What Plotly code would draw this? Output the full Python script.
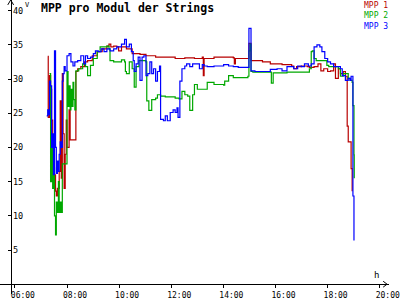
import plotly.graph_objects as go

# ---- data (hours, volts) ----
mpp1_t = [7.26, 7.28, 7.33, 7.37, 7.41, 7.45, 7.48, 7.52, 7.56, 7.59, 7.63, 7.70, 7.74, 7.78, 7.82, 7.85,
          7.89, 7.93, 7.97, 8.00, 8.08, 8.12, 8.30, 8.34, 8.41, 8.53, 8.67, 8.79, 8.97, 9.16, 9.35, 9.53,
          9.61, 9.68, 9.79, 9.91, 9.98, 10.09, 10.21, 10.28, 10.50, 10.80, 11.03, 11.40, 11.77, 12.15,
          12.52, 12.89, 13.19, 13.23, 13.26, 13.64, 14.01, 14.38, 14.42, 14.46, 14.87, 14.98, 15.02,
          15.06, 15.50, 15.80, 16.25, 16.62, 16.70, 16.81, 16.99, 17.22, 17.30, 17.48, 17.63, 17.74,
          17.85, 18.00, 18.11, 18.23, 18.30, 18.41, 18.49, 18.60, 18.68, 18.75, 18.79, 18.90, 18.94]
mpp1_v = [33.3, 24.4, 30.5, 28.5, 24.0, 17.0, 14.0, 16.0, 13.6, 12.9, 14.0, 16.5, 26.8, 15.5, 30.8, 22.0,
          14.0, 19.0, 24.0, 20.0, 25.5, 21.1, 21.1, 31.1, 31.5, 31.8, 32.5, 32.7, 33.4, 34.0, 34.4, 34.8,
          35.1, 34.7, 34.8, 34.7, 34.1, 34.7, 34.7, 34.4, 33.7, 33.6, 33.4, 33.2, 33.2, 33.0,
          33.1, 33.0, 33.2, 30.5, 33.0, 33.2, 33.2, 33.1, 32.2, 33.0, 33.0, 35.2, 35.2,
          32.7, 32.5, 32.2, 32.1, 31.9, 31.5, 31.8, 31.9, 31.8, 31.7, 31.8, 32.2, 31.2,
          31.5, 31.1, 31.2, 32.2, 30.1, 31.5, 30.8, 31.1, 30.4, 23.1, 20.8, 16.9, 13.6]

mpp2_t = [7.33, 7.37, 7.41, 7.45, 7.48, 7.52, 7.56, 7.59, 7.63, 7.67, 7.70, 7.74, 7.78, 7.82, 7.97, 8.00,
          8.04, 8.08, 8.12, 8.15, 8.19, 8.23, 8.26, 8.30, 8.34, 8.45, 8.60, 8.71, 8.79, 8.90, 9.01, 9.16,
          9.27, 9.42, 9.53, 9.61, 9.65, 9.79, 9.98, 10.09, 10.21, 10.24, 10.28, 10.39, 10.50, 10.58,
          10.65, 10.76, 10.95, 11.03, 11.06, 11.14, 11.25, 11.40, 11.47, 11.59, 11.77, 12.15, 12.30,
          12.41, 12.52, 12.63, 12.71, 12.78, 12.82, 12.89, 13.00, 13.19, 13.38, 13.64, 14.01, 14.05,
          14.20, 14.38, 14.94, 14.98, 15.02, 15.06, 15.13, 15.80, 15.84, 15.91, 16.44, 16.81, 17.26,
          17.30, 17.37, 17.41, 17.48, 17.56, 17.89, 17.97, 18.04, 18.38, 18.41, 18.49, 18.60, 18.68,
          18.79, 18.86, 18.94, 18.97, 19.01, 19.02]
mpp2_v = [30.8, 15.0, 21.0, 14.0, 17.0, 10.0, 7.2, 12.0, 10.5, 15.0, 10.5, 12.0, 10.5, 17.6, 17.6, 31.1,
          26.0, 29.0, 25.5, 28.5, 26.0, 29.5, 27.0, 25.5, 31.2, 31.5, 32.2, 31.8, 30.5, 32.0, 33.0, 34.0,
          34.7, 34.7, 34.8, 34.4, 32.7, 32.5, 32.5, 32.8, 32.5, 31.1, 30.8, 32.5, 31.5, 28.8,
          31.8, 32.7, 32.7, 32.5, 26.8, 25.4, 27.0, 27.2, 27.7, 27.5, 27.4, 27.2, 27.1,
          28.2, 27.7, 27.5, 25.4, 25.4, 27.7, 29.2, 28.5, 28.5, 29.5, 29.2, 29.1, 29.7,
          30.5, 30.2, 30.4, 34.1, 35.1, 31.1, 31.0, 31.0, 29.4, 30.9, 31.0, 31.0, 31.0,
          31.5, 34.0, 34.1, 33.0, 32.7, 32.7, 32.0, 31.8, 31.8, 31.5, 30.4, 30.8, 30.8,
          30.1, 29.8, 29.5, 26.1, 18.9, 15.5]

mpp3_t = [7.22, 7.26, 7.30, 7.33, 7.37, 7.41, 7.45, 7.48, 7.52, 7.56, 7.59, 7.63, 7.67, 7.70, 7.74, 7.78,
          7.82, 7.85, 7.89, 7.93, 8.00, 8.08, 8.12, 8.15, 8.23, 8.30, 8.41, 8.53, 8.64, 8.71, 8.79, 8.90,
          9.01, 9.09, 9.20, 9.31, 9.42, 9.53, 9.65, 9.79, 9.91, 10.09, 10.21, 10.28, 10.39, 10.47, 10.54,
          10.58, 10.65, 10.73, 10.80, 10.88, 10.95, 11.03, 11.10, 11.18, 11.25, 11.32, 11.40, 11.47,
          11.55, 11.59, 11.70, 11.77, 11.85, 11.96, 12.07, 12.15, 12.22, 12.26, 12.33, 12.41, 12.52,
          12.59, 12.71, 12.82, 13.00, 13.08, 13.19, 13.26, 13.38, 13.64, 14.01, 14.20, 14.38, 14.57,
          14.94, 14.98, 15.02, 15.06, 15.13, 15.21, 15.69, 15.80, 16.06, 16.25, 16.44, 16.70, 16.85,
          16.99, 17.11, 17.26, 17.37, 17.48, 17.59, 17.70, 17.78, 17.89, 18.00, 18.11, 18.23, 18.38,
          18.49, 18.56, 18.68, 18.79, 18.86, 18.90, 18.97, 19.01]
mpp3_v = [24.6, 25.5, 24.8, 29.7, 29.0, 20.0, 22.0, 16.0, 34.1, 20.0, 16.2, 18.0, 16.5, 19.0, 20.8, 20.0,
          29.7, 30.8, 31.8, 31.2, 33.4, 33.7, 33.7, 32.5, 31.9, 32.5, 32.7, 33.4, 32.2, 33.4, 33.0, 33.2,
          33.7, 34.1, 34.0, 34.4, 34.0, 34.4, 34.1, 34.4, 34.7, 35.1, 35.8, 34.7, 35.1, 34.0, 32.7,
          31.1, 32.2, 33.2, 29.8, 33.2, 33.4, 30.5, 30.8, 32.5, 30.8, 31.5, 29.7, 31.1,
          31.9, 24.1, 23.9, 24.6, 23.9, 25.1, 25.5, 25.1, 25.8, 24.4, 29.7, 31.5, 31.9,
          32.2, 31.8, 32.2, 32.2, 31.5, 32.1, 31.9, 31.8, 31.9, 32.1, 31.9, 31.8, 31.7,
          31.7, 37.4, 37.4, 31.2, 31.2, 31.1, 31.1, 31.4, 31.5, 31.2, 31.8, 31.5, 31.9,
          31.8, 32.2, 31.9, 32.2, 34.7, 35.0, 34.7, 34.0, 33.0, 32.5, 32.2, 31.8, 31.8,
          31.5, 30.5, 29.8, 30.1, 29.8, 30.4, 12.9, 6.4]

series_names = ["MPP 1", "MPP 2", "MPP 3"]
series_colors = ["#b80000", "#00a800", "#0000ff"]

x_tickvals = [6, 8, 10, 12, 14, 16, 18, 20]
x_ticktext = ["06:00", "08:00", "10:00", "12:00", "14:00", "16:00", "18:00", "20:00"]
y_tickvals = [5, 10, 15, 20, 25, 30, 35, 40]
y_ticktext = ["5", "10", "15", "20", "25", "30", "35", "40"]

title_text = "MPP pro Modul der Strings"
x_unit = "h"
y_unit = "V"

W, H = 400, 300
AX_X_PX = 11     # y-axis position from left (px)
AX_Y_PX = 290    # x-axis position from top (px)

MONO = "DejaVu Sans Mono, Liberation Mono, monospace"

fig = go.Figure()
for t, v, name, col in zip([mpp1_t, mpp2_t, mpp3_t], [mpp1_v, mpp2_v, mpp3_v], series_names, series_colors):
    fig.add_trace(go.Scatter(x=t, y=v, mode="lines", name=name,
                             line=dict(color=col, width=1.2, shape="hv"), showlegend=False))

fig.update_layout(
    width=W, height=H,
    margin=dict(l=0, r=0, t=0, b=0, pad=0),
    paper_bgcolor="white", plot_bgcolor="white",
    xaxis=dict(range=[5.429, 20.354], domain=[0, 1], anchor="free", position=(H - AX_Y_PX) / H,
               showline=True, linecolor="black", linewidth=1, showgrid=False, zeroline=False,
               ticks="outside", ticklen=3, tickcolor="black", tickwidth=1,
               tickvals=x_tickvals, ticktext=x_ticktext, ticklabeloverflow="allow",
               tickfont=dict(family=MONO, size=8, color="black"),
               ticklabelshift=8, ticklabelstandoff=0),
    yaxis=dict(range=[-1.43, 41.55], domain=[0, 1], anchor="free", position=AX_X_PX / W,
               showline=True, linecolor="black", linewidth=1, showgrid=False, zeroline=False,
               ticks="outside", ticklen=3, tickcolor="black", tickwidth=1,
               tickvals=y_tickvals, ticktext=y_ticktext, ticklabelposition="inside",
               ticklabeloverflow="allow",
               tickfont=dict(family=MONO, size=8.5, color="black")),
)

# axis arrows (decoration, paper coords)
def px(xp, yp):
    return xp / W, 1 - yp / H

ax0, ay0 = px(AX_X_PX - 3, 5)
ax1, ay1 = px(AX_X_PX, 0)
ax2, ay2 = px(AX_X_PX + 3, 5)
fig.add_shape(type="path", xref="paper", yref="paper",
              path=f"M {ax0} {ay0} L {ax1} {ay1} L {ax2} {ay2}",
              line=dict(color="black", width=1))
bx0, by0 = px(W - 6, AX_Y_PX - 3)
bx1, by1 = px(W - 2, AX_Y_PX)
bx2, by2 = px(W - 6, AX_Y_PX + 3)
fig.add_shape(type="path", xref="paper", yref="paper",
              path=f"M {bx0} {by0} L {bx1} {by1} L {bx2} {by2}",
              line=dict(color="black", width=1))

# title
fig.add_annotation(text=f"<b>{title_text}</b>", xref="paper", yref="paper",
                   x=40 / W, y=1 - 8 / H, xanchor="left", yanchor="middle", showarrow=False,
                   font=dict(family=MONO, size=11.5, color="black"))
# units
fig.add_annotation(text=y_unit, xref="paper", yref="paper", x=25 / W, y=1,
                   xanchor="left", yanchor="top", showarrow=False, borderpad=0,
                   font=dict(family=MONO, size=7, color="black"))
fig.add_annotation(text=x_unit, xref="paper", yref="paper", x=387 / W, y=1 - 281 / H,
                   xanchor="center", yanchor="middle", showarrow=False,
                   font=dict(family=MONO, size=9, color="black"))
# legend as coloured text
legend_html = "<br>".join(f'<span style="color:{c}">{n}</span>' for n, c in zip(series_names, series_colors))
fig.add_annotation(text=legend_html, xref="paper", yref="paper", x=1, y=1,
                   xanchor="right", yanchor="top", align="right", showarrow=False, borderpad=0,
                   font=dict(family=MONO, size=8, color="black"))

fig.write_html("out.html")
